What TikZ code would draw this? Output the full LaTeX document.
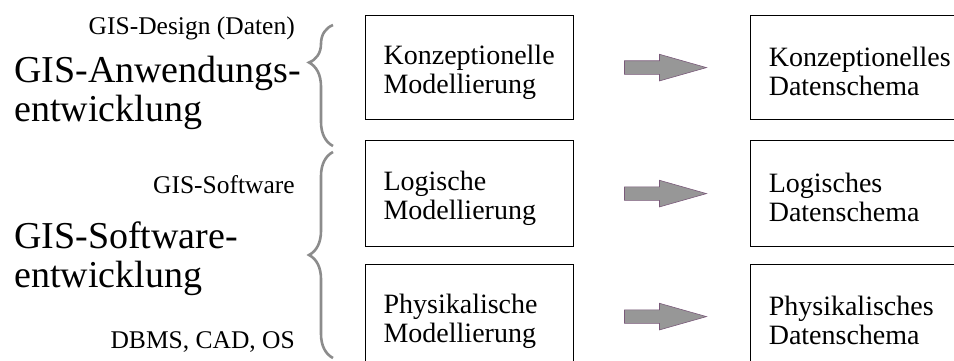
\documentclass[tikz,border=0pt]{standalone}
\usepackage{fontspec}
\setmainfont{Liberation Serif}
\usepackage{tikz}
\usetikzlibrary{decorations.pathreplacing,shapes,arrows,positioning}

\definecolor{klammergrau}{HTML}{8C8C8C}
\definecolor{pfeilgrau}{HTML}{979797}
\definecolor{pfeilrand}{HTML}{7A5A7A}

\tikzset{
    kasten/.style={draw, black, line width=1.2pt, anchor=north west, align=left,
        inner xsep=18pt, minimum height=104pt, text height=28pt,
        font=\fontsize{28}{29}\selectfont},
    links/.style={kasten, text width=172pt},
    rechts/.style={kasten, text width=200pt},
    pfeil/.style={single arrow, draw=pfeilrand, fill=pfeilgrau, line width=0.6pt,
        inner xsep=0pt, inner ysep=6.5pt, minimum height=82pt,
        single arrow head extend=6.5pt, single arrow tip angle=31.6},
    klammer/.style={draw=klammergrau, line width=2.6pt,
        decorate, decoration={brace, amplitude=24pt}},
    gross/.style={align=left, text width=300pt, inner sep=0pt, anchor=base west,
        font=\fontsize{38}{39}\selectfont},
    klein/.style={anchor=base east, inner sep=0pt, font=\fontsize{25.5}{27}\selectfont}
}

\begin{document}
\begin{tikzpicture}[x=1pt, y=-1pt]
        \useasboundingbox (0,0) rectangle (954,361);
        \clip (0,0) rectangle (954,361);
        % Modellierung
        \node[links] (km) at (365,15) {Konzeptionelle\\Modellierung};
        \node[links, minimum height=106pt] (lm) at (365,140) {Logische\\Modellierung};
        \node[links] (pm) at (365,264) {Physikalische\\Modellierung};
        % Datenschema
        \node[rechts, anchor=west, right=176pt of km] (kd) {Konzeptionelles\\Datenschema};
        \node[rechts, anchor=west, minimum height=106pt, right=176pt of lm] (ld) {Logisches\\Datenschema};
        \node[rechts, anchor=west, right=176pt of pm] (pd) {Physikalisches\\Datenschema};
        % Pfeile
        \node[pfeil, right=50pt of km] (ak) {};
        \node[pfeil, right=50pt of lm] (al) {};
        \node[pfeil, right=50pt of pm] (ap) {};
        % Klammern
        \coordinate (k1u) at (333,146);
        \coordinate (k1o) at (333,25);
        \coordinate (k2u) at (333,358);
        \coordinate (k2o) at (333,152);
        \draw[klammer, decoration={aspect=0.69}] (k1u) -- (k1o);
        \draw[klammer, decoration={aspect=0.5}] (k2u) -- (k2o);
        % Beschriftung
        \node[klein] (design) at (295,35) {GIS-Design (Daten)};
        \node[gross] (anw) at (14,83) {GIS-Anwendungs-\\entwicklung};
        \node[klein] (soft) at (295,193) {GIS-Software};
        \node[gross] (swe) at (14,248) {GIS-Software-\\entwicklung};
        \node[klein] (dbms) at (295,348) {DBMS, CAD, OS};
        \end{tikzpicture}
\end{document}
